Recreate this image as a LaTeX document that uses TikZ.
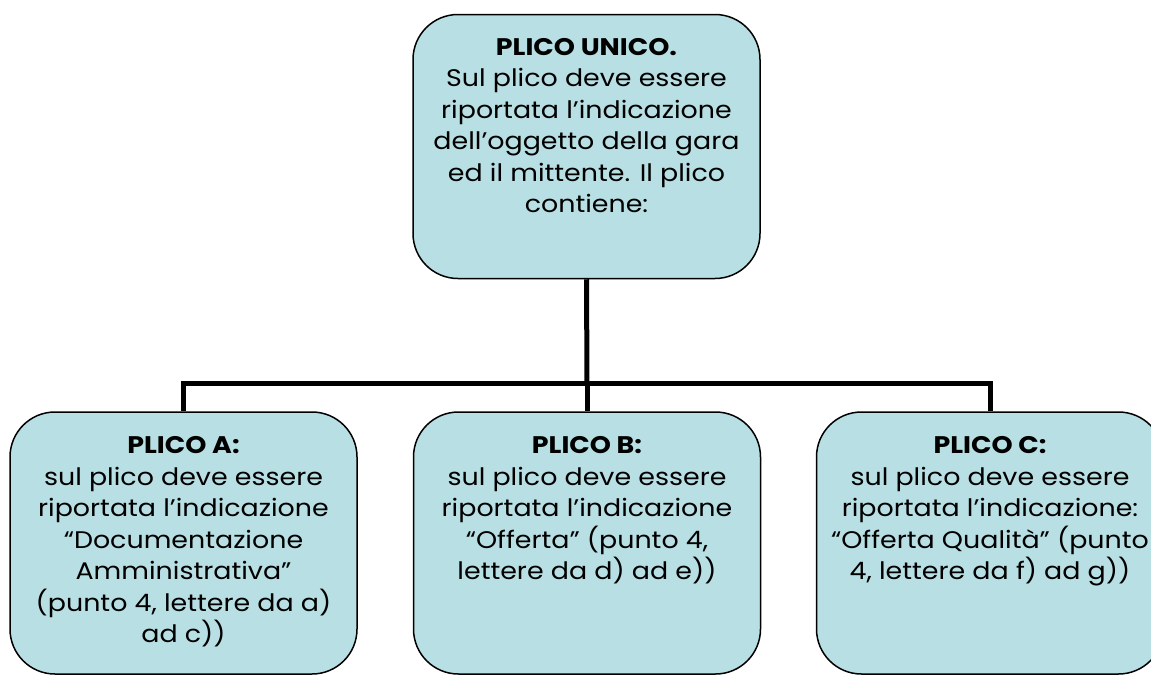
\documentclass[tikz,border=0pt]{standalone}
\usepackage{fontspec}
\setmainfont{Poppins}[FakeStretch=1.12]
\definecolor{boxfill}{HTML}{B8DFE3}
\begin{document}
\begin{tikzpicture}[x=1pt,y=-1pt,
  box/.style={draw=black, line width=1.5pt, fill=boxfill, rounded corners=45pt,
    minimum width=347pt, minimum height=264pt, inner sep=0pt},
  txt/.style={anchor=north, align=center, inner sep=0pt,
    font=\fontsize{24}{31.5}\selectfont},
  conn/.style={line width=5pt, draw=black}]
\clip (0,0) rectangle (1151,675);
\fill[white] (0,0) rectangle (1151,675);
\node[box] (top) at (586.5,146.5) {};
\node[box, minimum height=262pt] (a) at (183.5,543) {};
\node[box, minimum height=262pt] (b) at (587,543) {};
\node[box, minimum height=262pt] (c) at (990,543) {};
\node[txt] (ttop) at ([yshift=-24pt]top.north) {\textbf{PLICO UNICO.}\\Sul plico deve essere\\riportata l’indicazione\\dell’oggetto della gara\\ed il mittente. Il plico\\contiene:};
\node[txt] (ta) at ([yshift=-25pt]a.north) {\textbf{PLICO A:}\\sul plico deve essere\\riportata l’indicazione\\“Documentazione\\Amministrativa”\\(punto 4, lettere da a)\\ad c))};
\node[txt] (tb) at ([yshift=-25pt]b.north) {\textbf{PLICO B:}\\sul plico deve essere\\riportata l’indicazione\\“Offerta” (punto 4,\\lettere da d) ad e))};
\node[txt] (tc) at ([yshift=-25pt]c.north) {\textbf{PLICO C:}\\sul plico deve essere\\riportata l’indicazione:\\“Offerta Qualità” (punto\\4, lettere da f) ad g))};
\coordinate (mid) at (587,383);
\draw[conn] (top.south) -- (mid);
\draw[conn] (a.north) |- (mid) -| (c.north);
\draw[conn] (mid) -- (b.north);
\end{tikzpicture}
\end{document}
